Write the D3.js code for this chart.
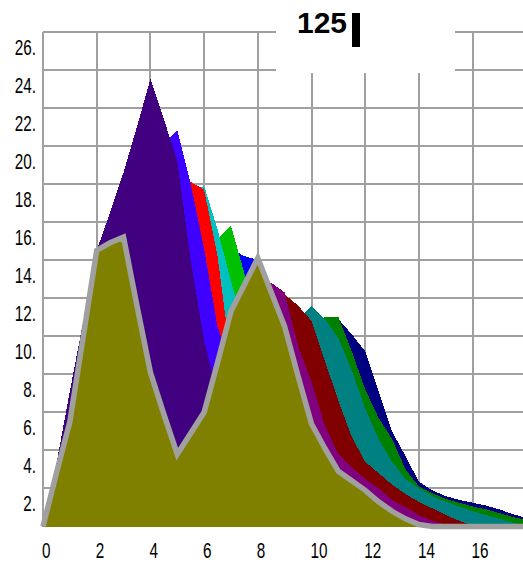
<!DOCTYPE html>
<html>
<head>
<meta charset="utf-8">
<script src="https://cdn.jsdelivr.net/npm/d3@7"></script>
<style>
  body { margin: 0; background: #fff; }
  svg { display: block; }
  .tick text { font-family: "Liberation Sans", Arial, sans-serif; font-size: 22.5px; fill: #000; }
</style>
</head>
<body>
<svg></svg>
<script>
// sample positions along the x axis
const xs = [0, 0.5, 1, 1.5, 2, 2.5, 3, 3.5, 4, 4.5, 5, 5.5, 6, 6.5, 7, 7.5, 8, 8.5, 9,
  9.5, 10, 10.5, 11, 11.5, 12, 12.5, 13, 13.5, 14, 14.5, 15, 15.5, 16, 16.5, 17, 17.5, 18]

// one curve per frame, back to front
const navy = [0, 1.8, 4.2, 7.4, 11.0, 12.2, 12.4, 10.5, 8.6, 8.0, 7.8, 8.0, 8.2, 8.4, 8.6, 8.8, 9.1, 9.4, 9.8, 10.1, 10.5, 10.8, 10.9, 10.1, 9.2, 7.1, 5.0, 3.7, 2.35, 1.9, 1.6, 1.4, 1.25, 1.1, 0.9, 0.65, 0.45]
const green = [0, 1.9, 4.4, 7.8, 11.5, 12.6, 12.8, 11.0, 9.0, 8.3, 8.0, 8.2, 8.4, 8.6, 8.8, 9.0, 9.3, 9.6, 10.0, 10.3, 10.7, 11.0, 11.0, 9.2, 7.2, 5.7, 4.6, 3.0, 2.1, 1.75, 1.45, 1.25, 1.05, 0.9, 0.7, 0.5, 0.35]
const teal = [0, 2.0, 4.6, 8.2, 12.0, 13.0, 13.2, 11.5, 9.5, 8.8, 8.6, 8.8, 9.0, 9.2, 9.4, 9.6, 9.8, 10.0, 10.5, 10.9, 11.6, 10.9, 9.9, 8.2, 6.2, 4.6, 3.4, 2.5, 2.0, 1.6, 1.3, 1.05, 0.8, 0.6, 0.4, 0.2, 0.05]
const maroon = [0, 2.1, 4.8, 8.6, 12.5, 13.4, 13.6, 12.0, 10.2, 9.3, 9.2, 9.6, 10.0, 10.3, 10.5, 10.8, 11.0, 11.5, 12.2, 11.6, 10.8, 8.7, 6.6, 4.7, 3.4, 2.8, 2.2, 1.7, 1.3, 0.95, 0.6, 0.3, 0.05, 0, 0, 0, 0]
const purple = [0, 2.2, 5.0, 9.0, 13.0, 13.8, 14.0, 12.5, 10.5, 9.5, 9.5, 10.0, 10.5, 11.0, 11.4, 11.9, 12.4, 12.8, 12.3, 9.5, 7.6, 5.3, 3.8, 3.1, 2.5, 2.0, 1.4, 1.0, 0.6, 0.3, 0.1, 0, 0, 0, 0, 0, 0]
const blue = [0, 2.6, 5.8, 9.6, 13.4, 14.2, 14.4, 13.2, 12.5, 12.3, 12.4, 12.7, 13.2, 14.0, 14.6, 14.2, 14.0, 12.0, 10.0, 7.5, 5.0, 3.7, 2.6, 2.0, 1.5, 1.0, 0.6, 0.2, 0, 0, 0, 0, 0, 0, 0, 0, 0]
const lime = [0, 2.7, 6.0, 9.8, 13.6, 14.4, 14.6, 14.0, 13.8, 13.9, 14.0, 14.2, 14.5, 15.1, 15.8, 13.3, 11.0, 9.5, 7.8, 6.0, 4.5, 3.3, 2.4, 1.8, 1.3, 0.9, 0.5, 0.2, 0, 0, 0, 0, 0, 0, 0, 0, 0]
const cyan = [0, 2.8, 6.2, 10.0, 13.8, 14.8, 15.3, 15.8, 16.3, 16.8, 17.2, 17.5, 17.9, 15.6, 12.9, 10.3, 9.0, 8.0, 6.8, 5.2, 3.9, 2.8, 2.0, 1.5, 1.1, 0.7, 0.4, 0.1, 0, 0, 0, 0, 0, 0, 0, 0, 0]
const red = [0, 2.9, 6.4, 10.2, 14.0, 15.2, 16.0, 16.8, 17.5, 18.0, 18.5, 18.1, 17.7, 14.2, 8.8, 7.5, 7.0, 6.8, 6.0, 4.8, 3.6, 2.6, 1.9, 1.4, 1.0, 0.6, 0.3, 0.1, 0, 0, 0, 0, 0, 0, 0, 0, 0]
const violet = [0, 3.0, 6.6, 10.4, 14.2, 15.8, 17.2, 18.5, 19.5, 20.1, 20.8, 18.0, 14.6, 10.5, 8.5, 8.0, 8.0, 7.6, 6.5, 5.0, 3.8, 2.8, 2.0, 1.5, 1.1, 0.7, 0.4, 0.1, 0, 0, 0, 0, 0, 0, 0, 0, 0]
const indigo = [0, 3.3, 7.1, 10.8, 14.5, 16.5, 18.6, 21.0, 23.5, 21.4, 19.2, 14.0, 9.8, 6.9, 6.0, 6.5, 7.0, 6.5, 5.5, 4.0, 3.0, 2.2, 1.6, 1.1, 0.8, 0.5, 0.3, 0.1, 0, 0, 0, 0, 0, 0, 0, 0, 0]
const olive = [0, 2.8, 5.5, 10.0, 14.5, 14.9, 15.2, 11.6, 8.1, 5.9, 3.8, 4.9, 6.0, 8.6, 11.3, 12.7, 14.1, 12.3, 10.5, 7.9, 5.4, 4.1, 2.9, 2.4, 1.9, 1.3, 0.8, 0.4, 0.1, 0, 0, 0, 0, 0, 0, 0, 0]

const frames = [navy, green, teal, maroon, purple, blue, lime, cyan, red, violet, indigo, olive]
const colors = ["#000080", "#008000", "#008080", "#800000", "#800080", "#0000ff", "#00c000", "#00c0c0", "#ff0000", "#4000ff", "#400080", "#808000"]

const xTicks = [0, 2, 4, 6, 8, 10, 12, 14, 16]
const yTicks = [2, 4, 6, 8, 10, 12, 14, 16, 18, 20, 22, 24, 26]
const frameLabel = "125"

const width = 523, height = 563

const svg = d3.select("svg")
.attr("width", width)
.attr("height", height)

const x = d3.scaleLinear().domain([0, 18]).range([43, 526.3])
const y = d3.scaleLinear().domain([0, 26]).range([526.5, 31.5])

// grid
const grid = svg.append("g")
.attr("stroke", "#a0a0a0")
.attr("stroke-width", 2)
.attr("shape-rendering", "crispEdges")

grid.selectAll("line.h")
.data(yTicks)
.join("line").classed("h", true)
.attr("x1", x(0)).attr("x2", width)
.attr("y1", d => y(d)).attr("y2", d => y(d))

grid.selectAll("line.v")
.data(xTicks)
.join("line").classed("v", true)
.attr("x1", d => x(d)).attr("x2", d => x(d))
.attr("y1", y(26)).attr("y2", y(0))

// areas, oldest at the back
const area = d3.area()
.x((d, i) => x(xs[i]))
.y0(y(0))
.y1(d => y(d))

svg.append("g")
.selectAll("path")
.data(frames)
.join("path")
.attr("d", area)
.attr("fill", (d, i) => colors[i])
.attr("shape-rendering", "crispEdges")

svg.append("path")
.datum(olive)
.attr("d", d3.line().x((d, i) => x(xs[i])).y(d => y(d)))
.attr("fill", "none")
.attr("stroke", "#a0a0a0")
.attr("stroke-width", 5.5)
.attr("stroke-linejoin", "miter")

// axis labels (narrow face, squeezed)
const yLab = svg.append("g").attr("class", "tick")
yLab.selectAll("g")
.data(yTicks)
.join("g")
.attr("transform", d => `translate(36,${y(d) + 23}) scale(0.68,1)`)
.append("text")
.attr("text-anchor", "end")
.text(d => d + ".")

const xLab = svg.append("g").attr("class", "tick")
xLab.selectAll("g")
.data(xTicks)
.join("g")
.attr("transform", d => `translate(${x(d) - 1},558) scale(0.68,1)`)
.append("text")
.text(d => d)

// frame counter box
svg.append("rect")
.attr("x", 276).attr("y", 0)
.attr("width", 179).attr("height", 73)
.attr("fill", "#fff")

svg.append("text")
.attr("x", 297).attr("y", 33)
.style("font-family", "'Liberation Sans', Arial, sans-serif")
.style("font-weight", "bold")
.style("font-size", "30px")
.text(frameLabel)

svg.append("rect")
.attr("x", 352).attr("y", 13)
.attr("width", 8).attr("height", 34)
.attr("fill", "#000")
</script>
</body>
</html>
